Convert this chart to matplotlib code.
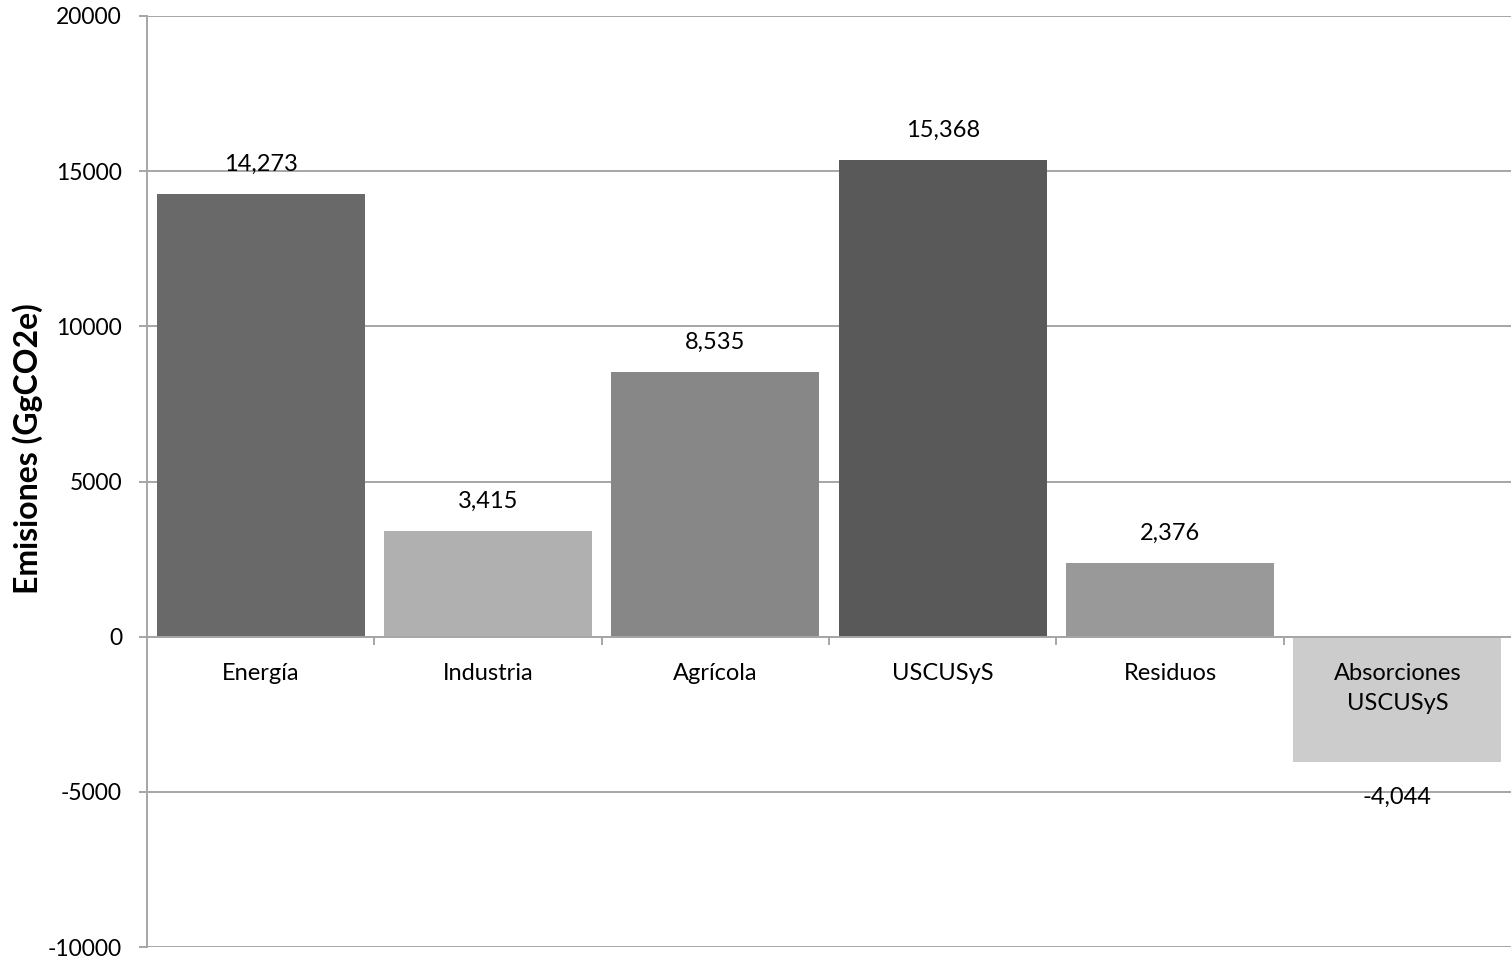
import matplotlib
matplotlib.use("Agg")
import matplotlib.pyplot as plt

plt.rcParams['font.family'] = ['Lato', 'DejaVu Sans']
plt.rcParams['axes.unicode_minus'] = False

# Emisiones por sector (GgCO2e)
categorias = ["Energía", "Industria", "Agrícola", "USCUSyS", "Residuos", "Absorciones\nUSCUSyS"]
emisiones = [14273, 3415, 8535, 15368, 2376, -4044]
colores = ["#696969", "#b0b0b0", "#878787", "#595959", "#999999", "#cccccc"]

grid_color = "#a6a6a6"

fig = plt.figure(figsize=(15.11, 9.61), dpi=100)
ax = fig.add_axes([147 / 1511, 14 / 961, 1 - 147 / 1511, 931 / 961])

x = list(range(len(categorias)))
ax.bar(x, emisiones, width=0.915, color=colores, zorder=2)

ax.set_xlim(-0.5, len(categorias) - 0.5)
ax.set_ylim(-10000, 20000)
ax.set_yticks(range(-10000, 20001, 5000))
ax.yaxis.grid(True, color=grid_color, linewidth=1.4, zorder=0)
ax.tick_params(axis='y', length=6, width=1.4, color=grid_color, labelsize=16.5, pad=12)

for s in ['top', 'right', 'bottom']:
    ax.spines[s].set_visible(False)
ax.spines['left'].set_color(grid_color)
ax.spines['left'].set_linewidth(1.4)

# eje de categorías sobre el cero, con marcas entre columnas
ax.axhline(0, color=grid_color, linewidth=1.4, zorder=3)
ax.set_xticks([])
for b in range(1, len(categorias)):
    ax.plot([b - 0.5, b - 0.5], [0, -230], color=grid_color, linewidth=1.4, zorder=3)

for i, nombre in enumerate(categorias):
    ax.annotate(nombre, xy=(i, 0), xytext=(0, -19), textcoords="offset points",
                ha="center", va="top", fontsize=17, linespacing=1.55, zorder=5)

for i, v in enumerate(emisiones):
    off = 21 if v >= 0 else -25
    ax.annotate(f"{v:,}", xy=(i, v), xytext=(0, off), textcoords="offset points",
                ha="center", va="center", fontsize=17, zorder=5)

ax.set_ylabel("Emisiones (GgCO2e)", fontsize=23, fontweight="bold")
ax.yaxis.set_label_coords(-0.0765, 0.535)

fig.savefig("out.png", dpi=100)
